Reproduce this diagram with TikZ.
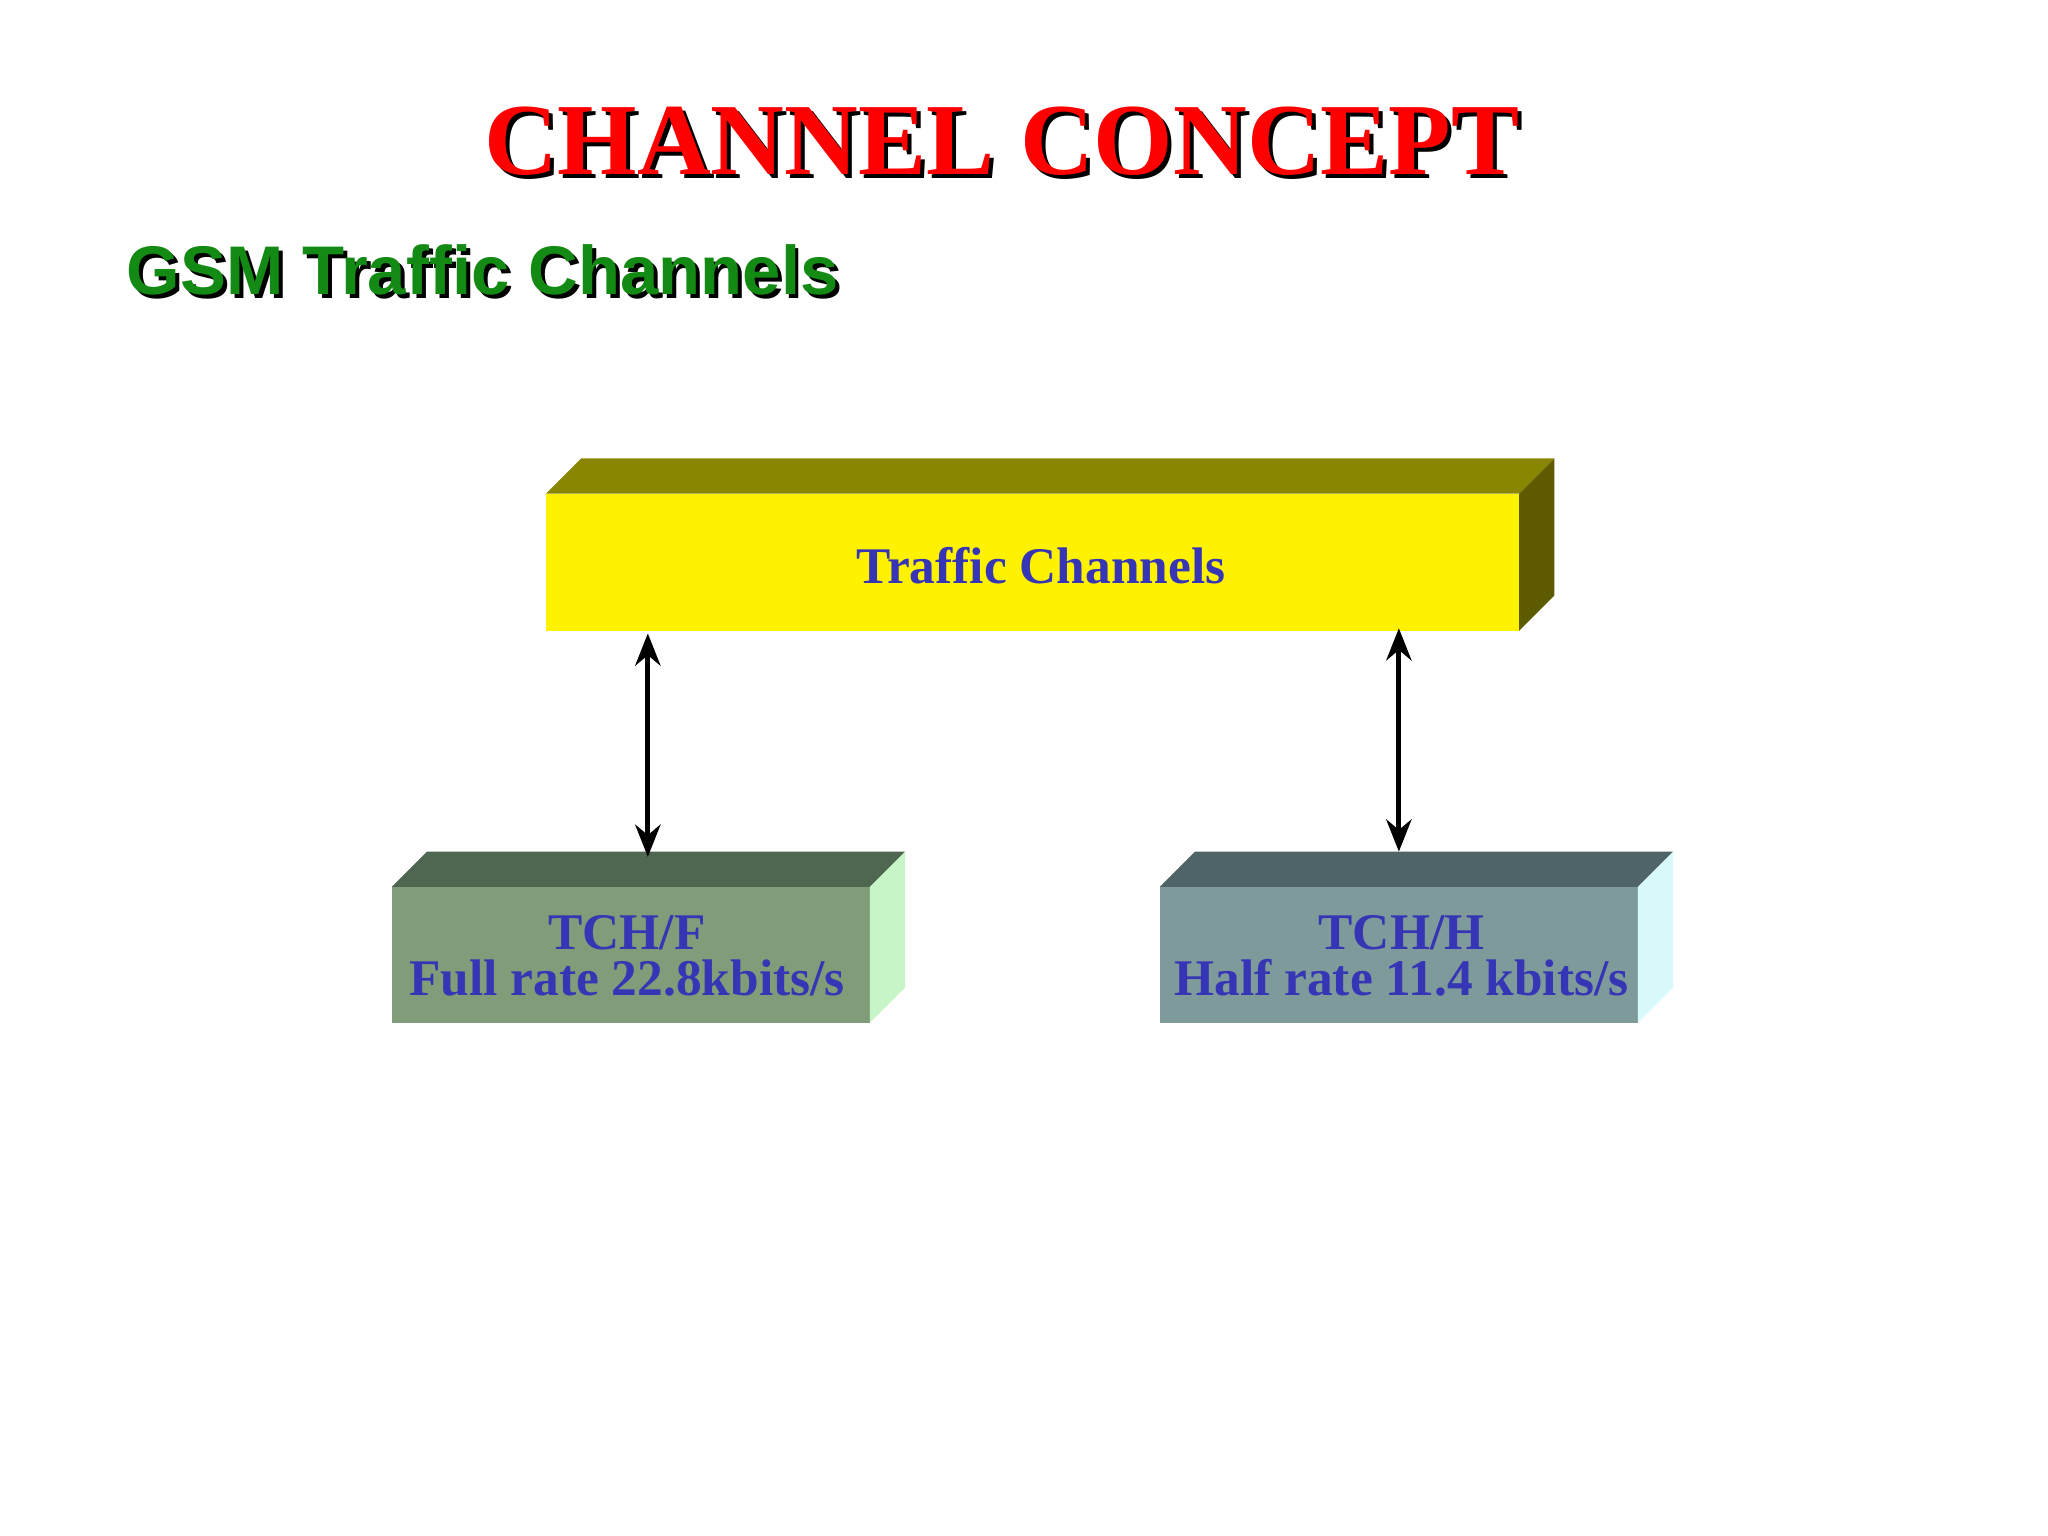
\documentclass[tikz,border=0pt]{standalone}
\usepackage{fontspec}
\setmainfont{Liberation Serif}
\newfontfamily\sansf{Liberation Sans}
\usetikzlibrary{arrows.meta}
\definecolor{txtblue}{HTML}{3535B5}
\definecolor{gsmgreen}{HTML}{138A13}
\begin{document}
\begin{tikzpicture}[x=0.02cm,y=-0.02cm,
  lbl/.style={font=\fontsize{22.4}{20}\selectfont\bfseries, text=txtblue, align=center},
  conn/.style={line width=2.2pt, {Stealth[length=14pt,width=11pt]}-{Stealth[length=14pt,width=11pt]}}]
\useasboundingbox (0,0) rectangle (1568,1176);
\fill[white] (0,0) rectangle (1568,1176);
% title
\node at (770,111) {\fontsize{44.5}{48}\selectfont\bfseries\color{black}CHANNEL CONCEPT};
\node (title) at (767,108) {\fontsize{44.5}{48}\selectfont\bfseries\color{red}CHANNEL CONCEPT};
\node[anchor=west] at (94,210) {\sansf\fontsize{30}{33}\selectfont\bfseries\color{black}GSM Traffic Channels};
\node[anchor=west] (sub) at (91,207) {\sansf\fontsize{30}{33}\selectfont\bfseries\color{gsmgreen}GSM Traffic Channels};
% yellow box
\fill[yellow] (418,378) rectangle (1163,483);
\fill[fill={rgb,255:red,139;green,134;blue,0}] (418,378) -- (445,351) -- (1190,351) -- (1163,378) -- cycle;
\fill[fill={rgb,255:red,94;green,90;blue,0}] (1163,378) -- (1190,351) -- (1190,456) -- (1163,483) -- cycle;
\node[lbl] (tc) at (797,433) {Traffic Channels};
% left box
\fill[fill={rgb,255:red,128;green,156;blue,120}] (300,679) rectangle (666,783);
\fill[fill={rgb,255:red,79;green,102;blue,80}] (300,679) -- (327,652) -- (693,652) -- (666,679) -- cycle;
\fill[fill={rgb,255:red,200;green,245;blue,200}] (666,679) -- (693,652) -- (693,756) -- (666,783) -- cycle;
\node[lbl] (tchf) at (480,732) {TCH/F\\Full rate 22.8kbits/s};
% right box
\fill[fill={rgb,255:red,127;green,154;blue,154}] (888,679) rectangle (1254,783);
\fill[fill={rgb,255:red,79;green,100;blue,102}] (888,679) -- (915,652) -- (1281,652) -- (1254,679) -- cycle;
\fill[fill={rgb,255:red,216;green,250;blue,250}] (1254,679) -- (1281,652) -- (1281,756) -- (1254,783) -- cycle;
\node[lbl] (tchh) at (1073,732) {TCH/H\\Half rate 11.4 kbits/s};
% connectors
\coordinate (a1) at (496,485); \coordinate (a2) at (496,656);
\coordinate (b1) at (1071,481); \coordinate (b2) at (1071,652);
\draw[conn] (a1) -- (a2);
\draw[conn] (b1) -- (b2);
\end{tikzpicture}
\end{document}
